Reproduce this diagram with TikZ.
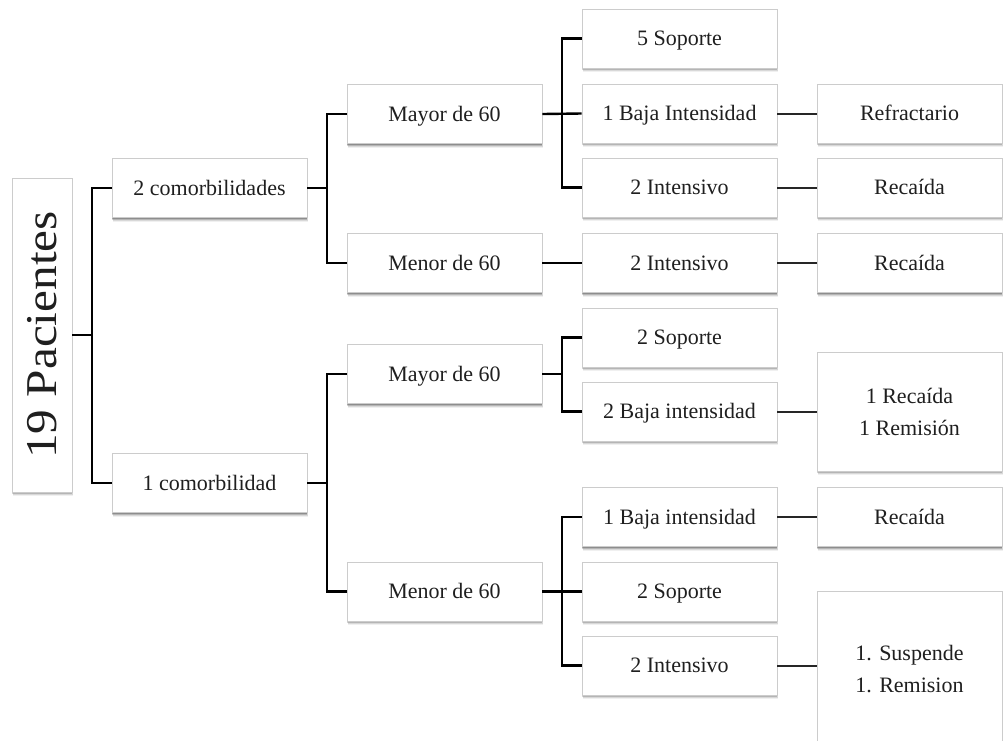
\documentclass[tikz,border=0pt]{standalone}
\usepackage{fontspec}
\setmainfont{Liberation Serif}
\usetikzlibrary{shadows,calc}
\begin{document}
\begin{tikzpicture}[x=1pt,y=-1pt,
  frame/.style={draw=black!20, line width=0.8pt, fill=white,
    drop shadow={shadow xshift=0.8pt, shadow yshift=-4pt, opacity=0.06, fill=black},
    drop shadow={shadow xshift=0.6pt, shadow yshift=-3pt, opacity=0.10, fill=black},
    drop shadow={shadow xshift=0.4pt, shadow yshift=-2pt, opacity=0.16, fill=black},
    drop shadow={shadow xshift=0.2pt, shadow yshift=-1pt, opacity=0.22, fill=black},
    minimum width=195pt, minimum height=59pt, inner sep=0pt},
  label/.style={align=center, font=\fontsize{22}{32}\selectfont, text=black!88},
  box/.style={frame, label, text height=18.5pt, text depth=4pt},
  endbox/.style={box, minimum width=185pt},
  link/.style={line width=2.4pt, black},
  link2/.style={line width=2pt, black!85}]
\useasboundingbox (0,0) rectangle (1003,740);
% root
\node[frame, minimum width=314pt, minimum height=60pt, rotate=90, font=\fontsize{44}{50}\selectfont, text=black!88] (root) at (42,335) {\scalebox{1.12}[1]{19 Pacientes}};
% level 1
\node[box] (c2) at (209.5,188) {2 comorbilidades};
\node[box] (c1) at (209.5,483) {1 comorbilidad};
% level 2
\node[box] (ma1) at (444.5,114) {Mayor de 60};
\node[box] (me1) at (444.5,263) {Menor de 60};
\node[box] (ma2) at (444.5,374) {Mayor de 60};
\node[box] (me2) at (444.5,591.5) {Menor de 60};
% level 3
\node[box] (a1) at (679.5,38.5) {5 Soporte};
\node[box] (a2) at (679.5,113.5) {1 Baja Intensidad};
\node[box] (a3) at (679.5,187.5) {2 Intensivo};
\node[box] (a4) at (679.5,263) {2 Intensivo};
\node[box] (a5) at (679.5,337.5) {2 Soporte};
\node[box] (a6) at (679.5,411.5) {2 Baja intensidad};
\node[box] (a7) at (679.5,517) {1 Baja intensidad};
\node[box] (a8) at (679.5,591.5) {2 Soporte};
\node[box] (a9) at (679.5,665.5) {2 Intensivo};
% level 4
\node[endbox] (b2) at (909.5,113.5) {Refractario};
\node[endbox] (b3) at (909.5,187.5) {Recaída};
\node[endbox] (b4) at (909.5,263) {Recaída};
\node[frame, minimum width=185pt, minimum height=119pt] (b6) at (909.5,411.5) {};
\node[label] (b6t) at (909.5,411.5) {1 Recaída\\1 Remisión};
\node[endbox] (b7) at (909.5,517) {Recaída};
\node[frame, minimum width=185pt, minimum height=170pt] (b9) at (909.5,676) {};
\node[label] (b9t) at (909.5,669) {1. Suspende\\1. Remision};
% junctions
\coordinate (j0) at (92,335);
\coordinate (j1) at (327,188);
\coordinate (j2) at (327,483);
\coordinate (j3) at (562,114);
\coordinate (j4) at (562,374);
\coordinate (j5) at (562,591.5);
% connectors
\draw[link] (root.south) -- (j0);
\draw[link] (c2.west) -| (j0) |- (c1.west);
\draw[link] (c2.east) -- (j1);
\draw[link] (ma1.west) -| (j1) |- (me1.west);
\draw[link] (c1.east) -- (j2);
\draw[link] (ma2.west) -| (j2) |- (me2.west);
\draw[link] (ma1.east) -- (a2.west);
\draw[link] (a1.west) -| (j3) |- (a3.west);
\draw[link] (me1.east) -- (a4.west);
\draw[link] (ma2.east) -- (j4);
\draw[link] (a5.west) -| (j4) |- (a6.west);
\draw[link] (me2.east) -- (a8.west);
\draw[link] (a7.west) -| (j5) |- (a9.west);
\draw[link2] (a2.east) -- (a2.east -| b2.west);
\draw[link2] (a3.east) -- (b3.west);
\draw[link2] (a4.east) -- (b4.west);
\draw[link2] (a6.east) -- (b6.west);
\draw[link2] (a7.east) -- (b7.west);
\draw[link2] (a9.east) -- (a9.east -| b9.west);
\end{tikzpicture}
\end{document}
